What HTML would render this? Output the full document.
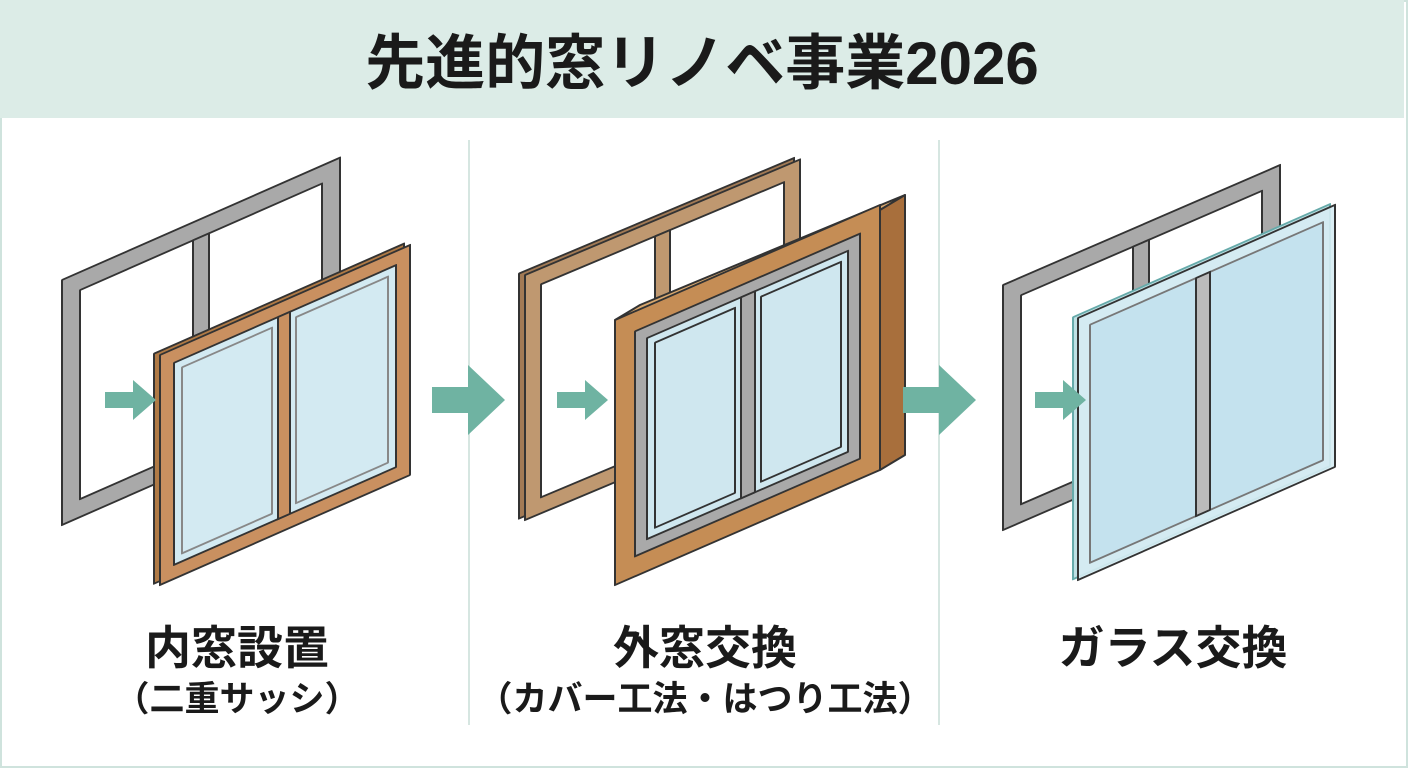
<!DOCTYPE html>
<html><head><meta charset="utf-8"><style>
body{margin:0;width:1408px;height:768px;overflow:hidden;background:#fff;font-family:"Liberation Sans","Noto Sans CJK JP",sans-serif;}
.wrap{position:absolute;left:0;top:0;width:1404px;height:764px;border:2px solid #cfe3dd;}
.hdr{position:absolute;left:0;top:0;width:1404px;height:118px;background:#dcece7;}
.t{position:absolute;left:0;width:1404px;text-align:center;font-weight:bold;color:#1a1a1a;}
.lab{position:absolute;text-align:center;font-weight:bold;color:#1a1a1a;width:460px;}
</style></head><body>
<div class="wrap"></div>
<div class="hdr"></div>
<div class="t" style="top:28px;font-size:60px;line-height:72px;">先進的窓リノベ事業2026</div>
<svg width="1408" height="768" style="position:absolute;left:0;top:0">
<line x1="469" y1="140" x2="469" y2="725" stroke="#d6e6e1" stroke-width="2"/>
<line x1="939" y1="140" x2="939" y2="725" stroke="#d6e6e1" stroke-width="2"/>
<g stroke="#333" stroke-width="2" stroke-linejoin="round">
<g transform="translate(62,280) matrix(1,-0.44,0,1,0,0)">
<rect x="0" y="0" width="278" height="245" fill="#a9a9a9"/>
<rect x="18" y="18" width="242" height="209" fill="#fff"/>
<rect x="131" y="18" width="16" height="209" fill="#a9a9a9"/>
</g>
<g transform="translate(160,355) matrix(1,-0.44,0,1,0,0)">
<rect x="-6" y="-4" width="250" height="230" fill="#b07a45"/>
<rect x="0" y="0" width="250" height="230" fill="#c99060"/>
<rect x="14" y="14" width="222" height="202" fill="#d3eaf2"/>
<rect x="118" y="14" width="12" height="202" fill="#c99060"/>
<rect x="22" y="22" width="90" height="186" fill="none" stroke="#888"/>
<rect x="136" y="22" width="92" height="186" fill="none" stroke="#888"/>
</g>
<g transform="translate(525,275) matrix(1,-0.42,0,1,0,0)">
<rect x="-6" y="-4" width="275" height="245" fill="#a27a55"/>
<rect x="0" y="0" width="275" height="245" fill="#bf9870"/>
<rect x="16" y="16" width="243" height="213" fill="#fff"/>
<rect x="130" y="16" width="15" height="213" fill="#bf9870"/>
</g>
<polygon points="615,320 640,305 905,195 880,210" fill="#d9a86e"/>
<g transform="translate(615,320) matrix(1,-0.434,0,1,0,0)">
<rect x="0" y="0" width="265" height="265" fill="#c58d55"/>
<rect x="20" y="20" width="225" height="225" fill="#a9a9a9"/>
<rect x="32" y="32" width="201" height="201" fill="#cfe7ef"/>
<rect x="126" y="32" width="14" height="201" fill="#a9a9a9"/>
<rect x="40" y="40" width="80" height="185" fill="none"/>
<rect x="146" y="40" width="80" height="185" fill="none"/>
</g>
<polygon points="880,210 905,195 905,455 880,470" fill="#a86f3c"/>
<g transform="translate(1003,285) matrix(1,-0.433,0,1,0,0)">
<rect x="0" y="0" width="277" height="245" fill="#a9a9a9"/>
<rect x="18" y="18" width="241" height="209" fill="#fff"/>
<rect x="130" y="18" width="16" height="209" fill="#a9a9a9"/>
</g>
<g transform="translate(1078,318) matrix(1,-0.44,0,1,0,0)">
<rect x="-5" y="-3" width="257" height="262" fill="#bfe0e4" stroke="#6aa"/>
<rect x="0" y="0" width="257" height="262" fill="#d6ecf3" fill-opacity="0.9"/>
<rect x="12" y="12" width="233" height="238" fill="#c4e2ee" stroke="#777"/>
<rect x="118" y="12" width="14" height="238" fill="#bbb"/>
</g>
</g>
<g fill="#6fb3a2">
<polygon points="105,392 133,392 133,380 156,400 133,420 133,408 105,408"/>
<polygon points="557,392 585,392 585,380 608,400 585,420 585,408 557,408"/>
<polygon points="1035,392 1063,392 1063,380 1086,400 1063,420 1063,408 1035,408"/>
<polygon points="432,387 468,387 468,365 505,400 468,435 468,413 432,413"/>
<polygon points="903,387 939,387 939,365 976,400 939,435 939,413 903,413"/>
</g>
</svg>
<div class="lab" style="left:7px;top:620px;font-size:46px;line-height:56px;">内窓設置</div>
<div class="lab" style="left:7px;top:678px;font-size:35px;line-height:44px;">（二重サッシ）</div>
<div class="lab" style="left:475px;top:620px;font-size:46px;line-height:56px;">外窓交換</div>
<div class="lab" style="left:435px;top:678px;font-size:35px;line-height:44px;width:540px;">（カバー工法・はつり工法）</div>
<div class="lab" style="left:943px;top:620px;font-size:46px;line-height:56px;">ガラス交換</div>
</body></html>
